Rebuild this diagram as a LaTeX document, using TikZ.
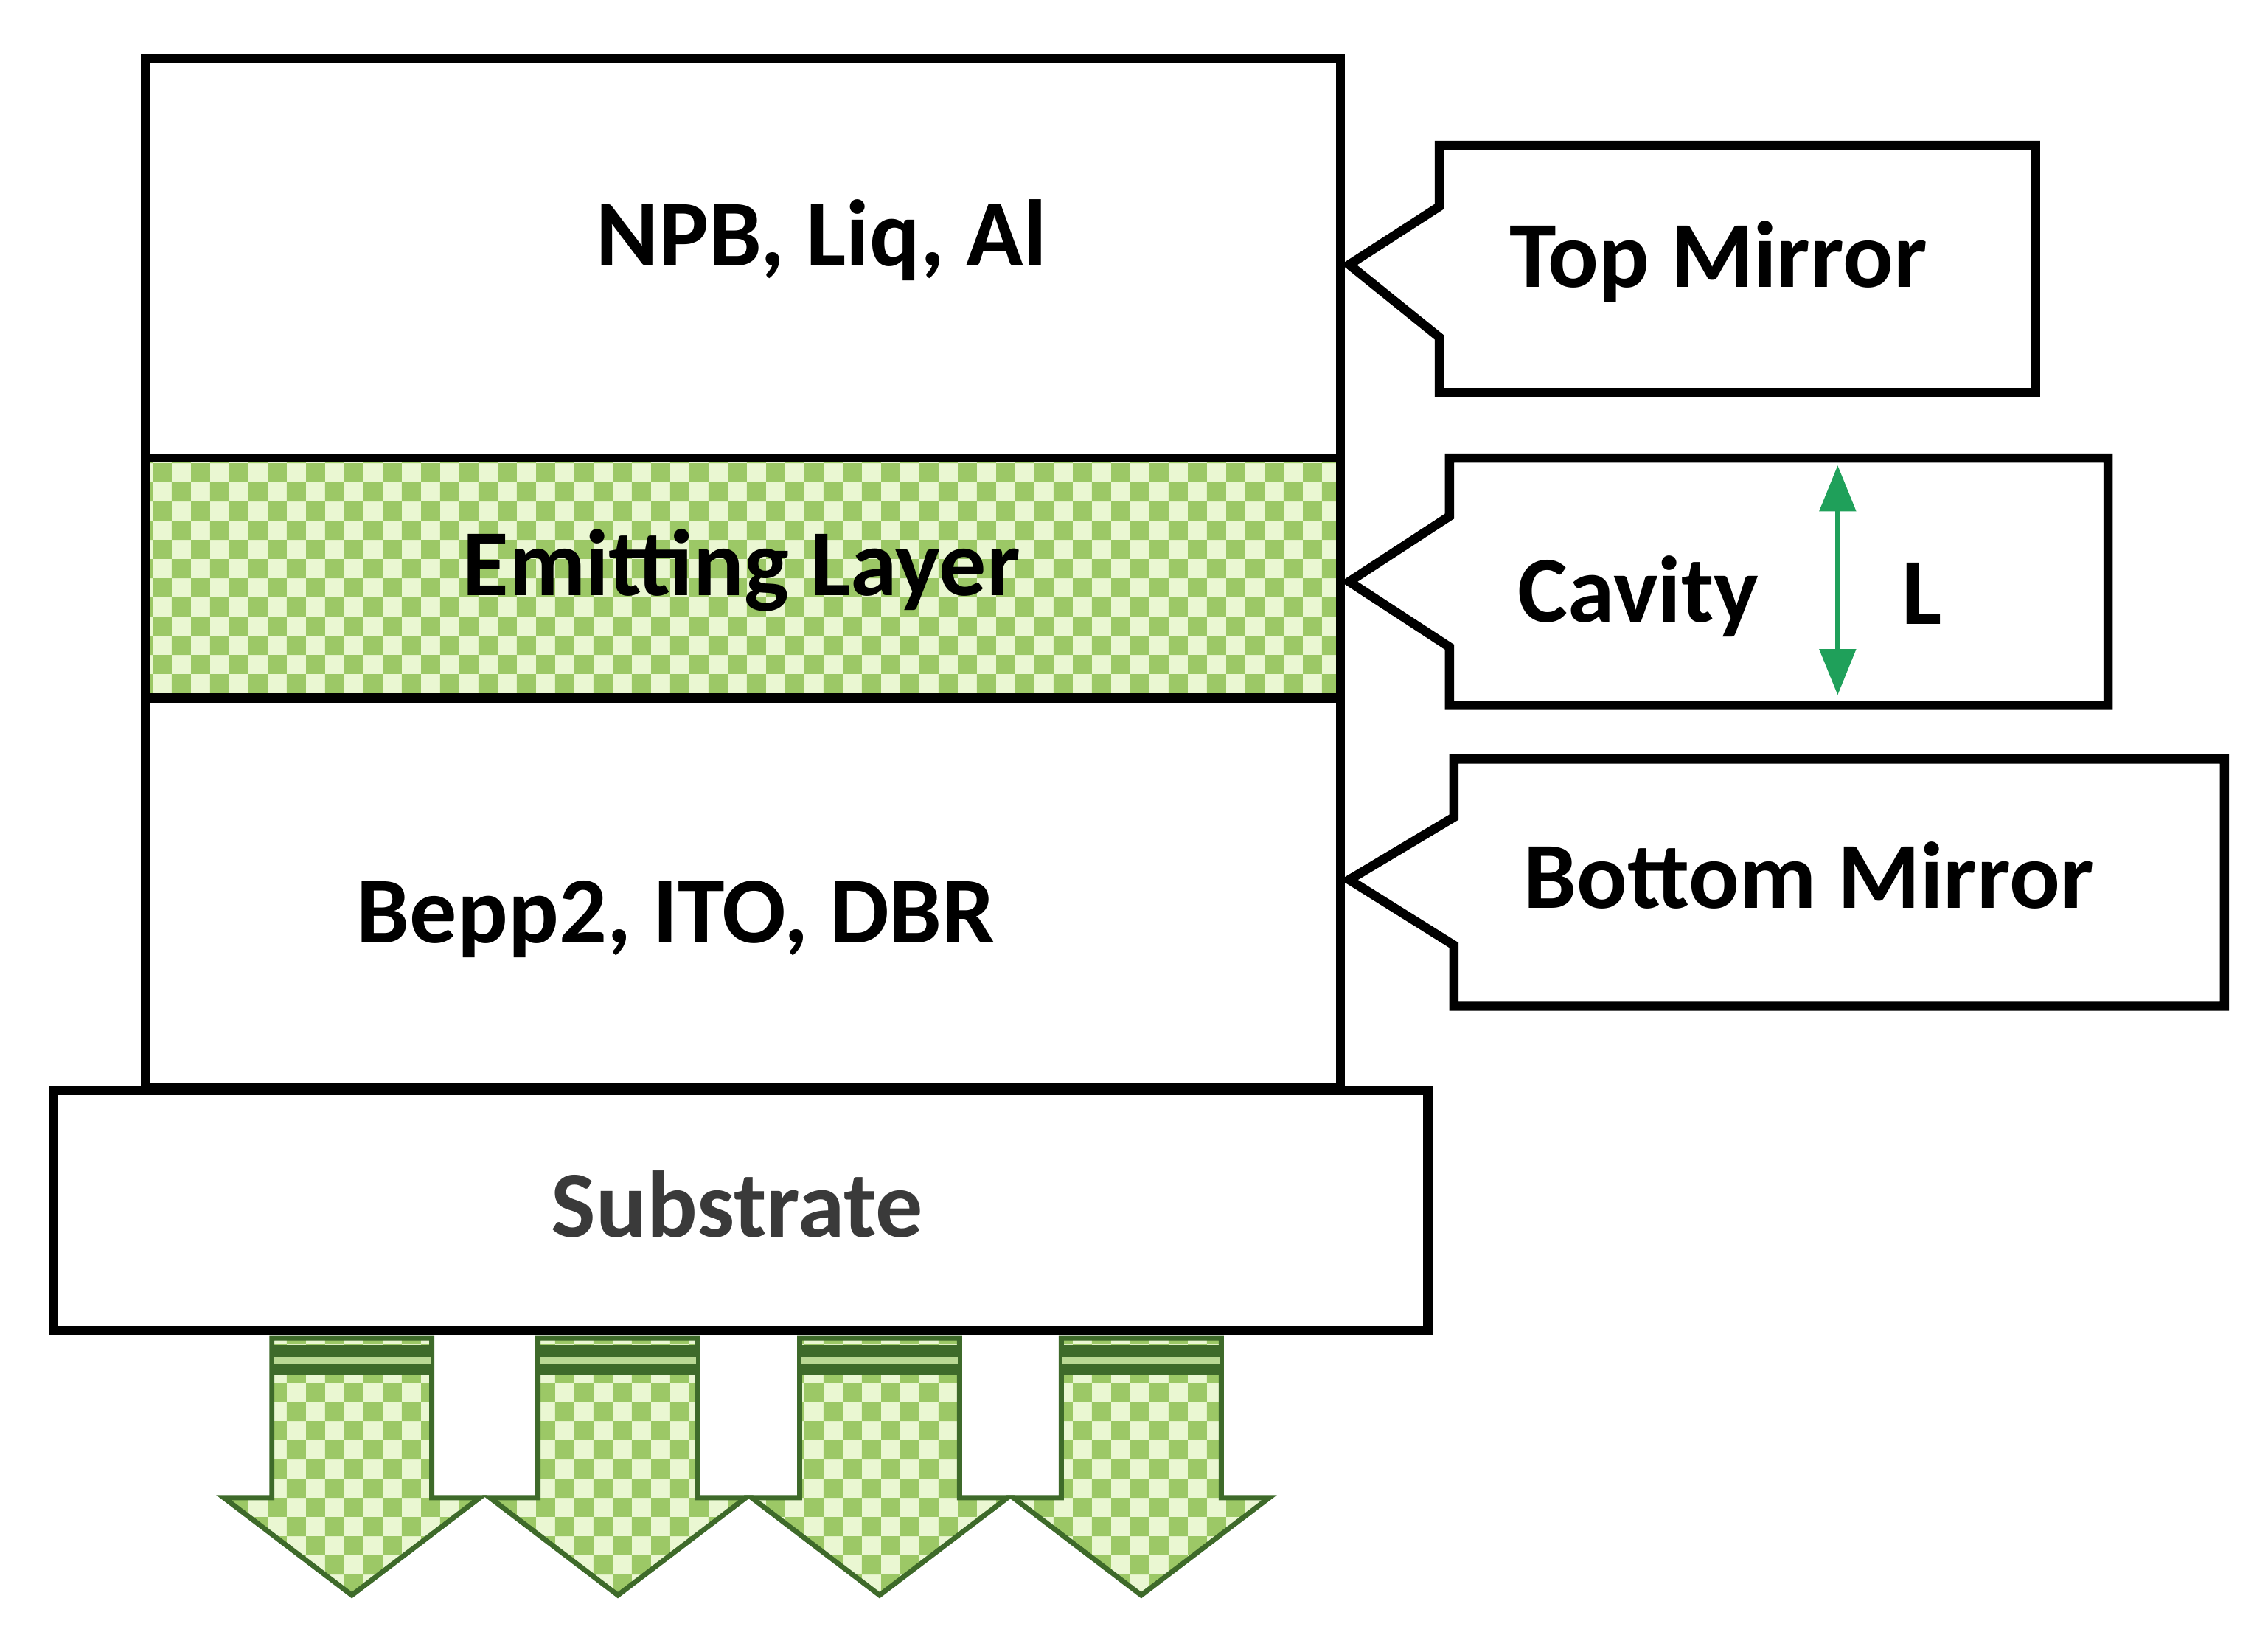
\documentclass[tikz,border=0pt]{standalone}
\usepackage{fontspec}
\setmainfont{Carlito}
\usetikzlibrary{patterns,arrows.meta}
\pgfdeclarepatternformonly{checks}{\pgfqpoint{0pt}{0pt}}{\pgfqpoint{15pt}{15pt}}{\pgfqpoint{15pt}{15pt}}{%
  \pgfpathrectangle{\pgfqpoint{0pt}{0pt}}{\pgfqpoint{7.5pt}{7.5pt}}%
  \pgfpathrectangle{\pgfqpoint{7.5pt}{7.5pt}}{\pgfqpoint{7.5pt}{7.5pt}}%
  \pgfusepath{fill}}
\definecolor{chkbase}{HTML}{EAF7D2}
\definecolor{chkfg}{HTML}{9CC866}
\definecolor{darkg}{HTML}{3E6A2A}
\definecolor{arrg}{HTML}{1FA05A}
\definecolor{subtxt}{HTML}{3A3A3A}
\tikzset{
  layer/.style={draw=black,line width=3.6pt},
  checked/.style={fill=chkbase,postaction={pattern=checks,pattern color=chkfg}},
  lbl/.style={font=\fontsize{37}{44}\selectfont\bfseries},
  callout/.style={draw=black,line width=3.6pt,fill=white},
  light/.style={line width=2pt,checked}
}
\begin{document}
\begin{tikzpicture}[x=0.02cm,y=-0.02cm]
\useasboundingbox (0,0) rectangle (1560,1122);
% stack
\fill[checked] (100,315) rectangle (922,480);
\draw[layer] (100,40) rectangle (922,315);
\draw[layer] (100,315) rectangle (922,480);
\draw[layer] (100,480) rectangle (922,748);
\draw[layer,fill=white] (37,750) rectangle (982,915);
\node[lbl] (npb) at (565,165) {NPB, Liq, Al};
\node[lbl] (eml) at (510,392) {Emitting Layer};
\node[lbl] (bep) at (465,632) {Bepp2, ITO, DBR};
\node[lbl,text=subtxt] (sub) at (507,828) {Substrate};
% callouts
\draw[callout] (990,100) -- (1400,100) -- (1400,270) -- (990,270) -- (990,232) -- (928,182) -- (990,142) -- cycle;
\node[lbl] (top) at (1182,180) {Top Mirror};
\draw[callout] (997,315) -- (1450,315) -- (1450,485) -- (997,485) -- (997,445) -- (928,400) -- (997,355) -- cycle;
\node[lbl] (cav) at (1127,410) {Cavity};
\node[lbl] (L) at (1322,408) {L};
\coordinate (la) at (1264,320);
\coordinate (lb) at (1264,478);
\draw[arrg,line width=2pt,{Triangle[length=18pt,width=14pt]}-{Triangle[length=18pt,width=14pt]}] (la) -- (lb);
\draw[callout] (1000,522) -- (1530,522) -- (1530,692) -- (1000,692) -- (1000,650) -- (928,605) -- (1000,562) -- cycle;
\node[lbl] (bot) at (1244,602) {Bottom Mirror};
% arrows
\foreach \c in {242,425,605,785}{
  \path[light] (\c-55,920) -- (\c+55,920) -- (\c+55,1030) -- (\c+88,1030) -- (\c,1097) -- (\c-88,1030) -- (\c-55,1030) -- cycle;
  \draw[darkg,line width=2pt] (\c-55,920) -- (\c+55,920) -- (\c+55,1030) -- (\c+88,1030) -- (\c,1097) -- (\c-88,1030) -- (\c-55,1030) -- cycle;
  \fill[darkg] (\c-54,925) rectangle (\c+54,933);
  \fill[chkfg!70!white] (\c-54,933) rectangle (\c+54,938);
  \fill[darkg] (\c-54,938) rectangle (\c+54,946);
}
\end{tikzpicture}
\end{document}
